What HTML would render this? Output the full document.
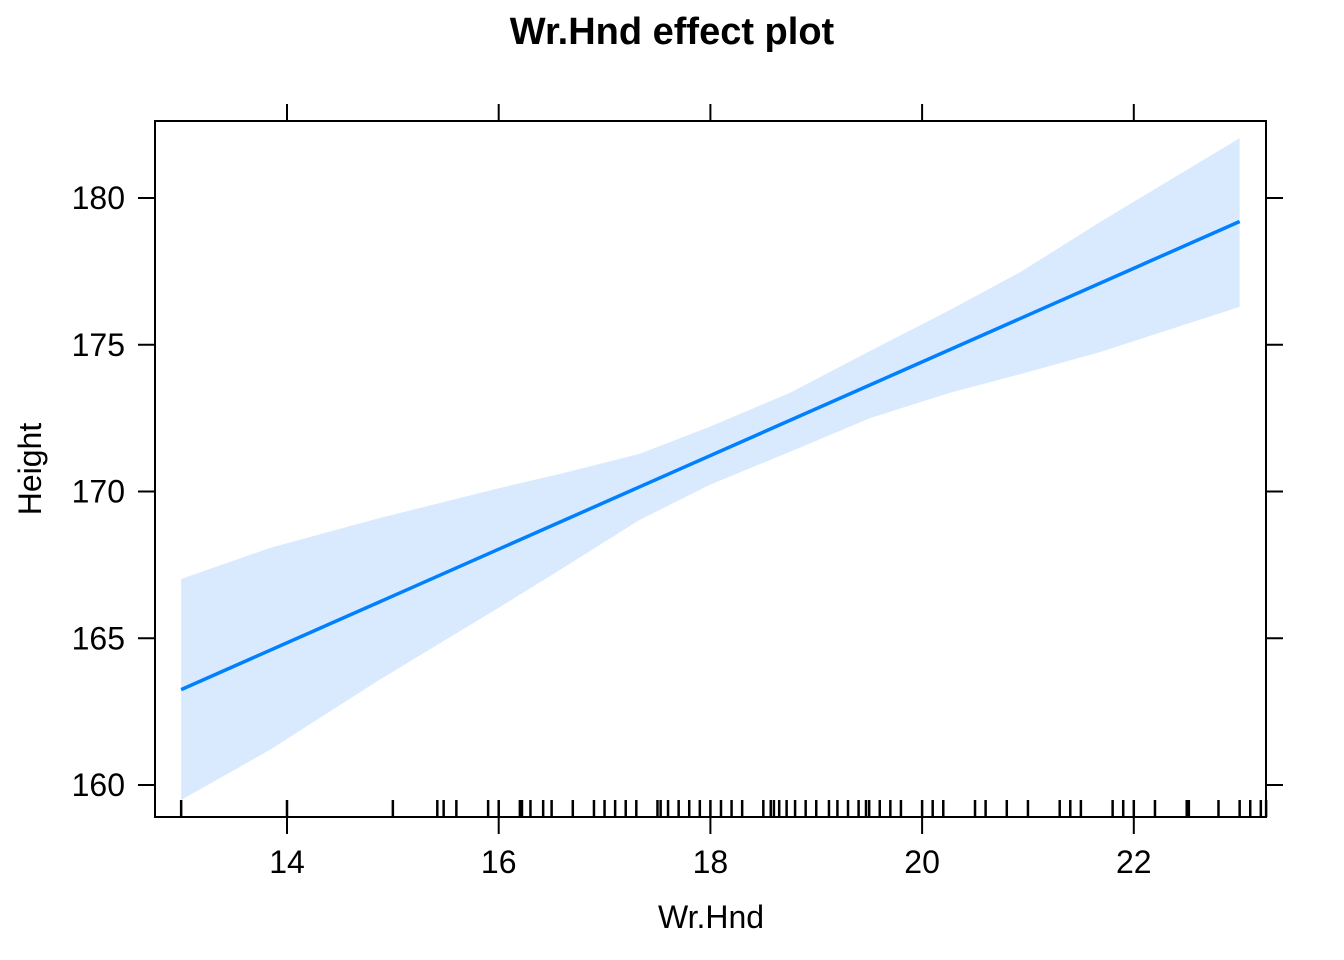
<!DOCTYPE html>
<html><head><meta charset="utf-8"><style>
html,body{margin:0;padding:0;background:#fff}
svg{display:block;font-family:"Liberation Sans",Arial,sans-serif}
</style></head><body>
<svg id="chart" width="1344" height="960" viewBox="0 0 1344 960">
<text x="672" y="44" text-anchor="middle" font-size="38" font-weight="bold">Wr.Hnd effect plot</text>
<g id="band-g"></g><g id="line-g"></g><g id="rug-g"></g><g id="axes-g"></g>
<text x="711" y="928" text-anchor="middle" font-size="32">Wr.Hnd</text>
<text transform="translate(41,469) rotate(-90)" text-anchor="middle" font-size="32">Height</text>
</svg>
<script>
const bandX = [13,13.84,14.88,16.01,16.58,17.33,17.99,18.75,19.51,20.26,20.93,21.68,23];
const bandUpper = [167.02,168.08,169.1,170.12,170.6,171.28,172.2,173.36,174.79,176.18,177.48,179.18,182.04];
const bandLower = [159.49,161.2,163.6,166.06,167.33,169.03,170.22,171.35,172.5,173.36,174.0,174.75,176.29];
const lineX = [13,23];
const lineY = [163.25,179.2];
const rugValues = [13,14,15,15.42,15.48,15.6,15.9,16,16.2,16.22,16.3,16.42,16.5,16.7,16.9,17,17.1,17.2,17.3,17.5,17.53,17.6,17.7,17.8,17.9,18,18.1,18.2,18.3,18.5,18.57,18.6,18.65,18.72,18.8,18.9,19,19.12,19.2,19.3,19.4,19.47,19.5,19.6,19.7,19.8,20,20.1,20.2,20.5,20.6,20.8,21,21.3,21.4,21.5,21.8,21.9,22,22.2,22.5,22.52,22.8,23,23.1,23.2,23.25];
const xTicks = [14,16,18,20,22];
const yTicks = [160,165,170,175,180];

const NS="http://www.w3.org/2000/svg";
const L=155,R=1266,T=121,B=817;
function sx(v){return 287+(v-14)*105.85;}
function sy(v){return 785-(v-160)*29.35;}
function mk(tag,attrs,parent){const e=document.createElementNS(NS,tag);for(const k in attrs)e.setAttribute(k,attrs[k]);parent.appendChild(e);return e;}

const band=document.getElementById('band-g');
let pts=bandX.map((x,i)=>sx(x)+','+sy(bandUpper[i]));
for(let i=bandX.length-1;i>=0;i--)pts.push(sx(bandX[i])+','+sy(bandLower[i]));
const poly=mk('polygon',{points:pts.join(' '),fill:'#d9eaff',stroke:'none'},band);



const lg=document.getElementById('line-g');
const ln=mk('polyline',{points:lineX.map((x,i)=>sx(x)+','+sy(lineY[i])).join(' '),fill:'none',stroke:'#0080ff','stroke-width':3.5},lg);



const rug=document.getElementById('rug-g');
rugValues.forEach(v=>{
  const r=mk('line',{x1:sx(v),x2:sx(v),y1:B,y2:B-17,stroke:'#000','stroke-width':2.5},rug);
  
  
});

const ax=document.getElementById('axes-g');
const box=mk('rect',{x:L,y:T,width:R-L,height:B-T,fill:'none',stroke:'#000','stroke-width':2},ax);


xTicks.forEach(v=>{
  const x=sx(v);
  mk('line',{x1:x,x2:x,y1:B,y2:B+17,stroke:'#000','stroke-width':2},ax);
  mk('line',{x1:x,x2:x,y1:T,y2:T-17,stroke:'#000','stroke-width':2},ax);
  const t=mk('text',{x:x,y:873,'text-anchor':'middle','font-size':32},ax);
  t.textContent=v;
  
  
});
yTicks.forEach(v=>{
  const y=sy(v);
  mk('line',{x1:L,x2:L-17,y1:y,y2:y,stroke:'#000','stroke-width':2},ax);
  mk('line',{x1:R,x2:R+17,y1:y,y2:y,stroke:'#000','stroke-width':2},ax);
  const t=mk('text',{x:125,y:y+11,'text-anchor':'end','font-size':32},ax);
  t.textContent=v;
  
  
});
</script>
</body></html>
